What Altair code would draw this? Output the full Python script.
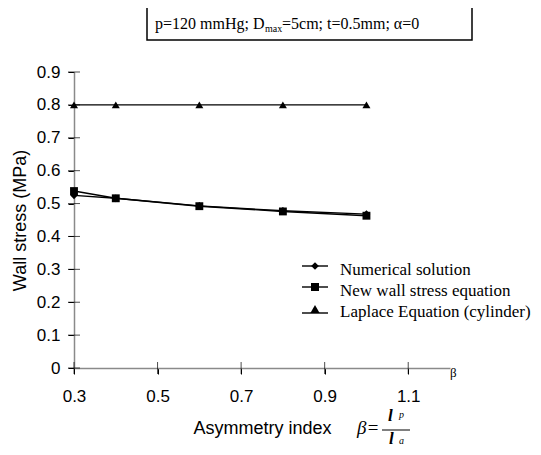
import altair as alt
import pandas as pd

# ---- data ----
beta_vals = [0.3, 0.4, 0.6, 0.8, 1.0]
numerical = [0.525, 0.516, 0.493, 0.478, 0.468]
new_eq = [0.538, 0.516, 0.492, 0.476, 0.463]
laplace = [0.8, 0.8, 0.8, 0.8, 0.8]
series_names = ["Numerical solution", "New wall stress equation", "Laplace Equation (cylinder)"]
series_shapes = ["diamond", "square", "triangle-up"]
x_ticks = [0.3, 0.5, 0.7, 0.9, 1.1]
y_ticks = [0.0, 0.1, 0.2, 0.3, 0.4, 0.5, 0.6, 0.7, 0.8, 0.9]

rows = []
for name, vals in zip(series_names, [numerical, new_eq, laplace]):
    for b, v in zip(beta_vals, vals):
        rows.append({"beta": b, "stress": v, "series": name})
df = pd.DataFrame(rows)

W, H = 376, 296
xs = alt.Scale(domain=[0.3, 1.2], nice=False, zero=False)
ys = alt.Scale(domain=[0, 0.9], nice=False)

x_axis = alt.Axis(
    values=x_ticks, format=".1f", title="Asymmetry index",
    titleX=188, titleY=60, titleBaseline="middle", titleFont="Liberation Sans",
    titleFontSize=18, titleFontWeight="normal", titleColor="black",
    labelFont="Liberation Sans", labelFontSize=17, labelColor="black", labelPadding=14,
    labelFlush=False, labelOverlap=False,
    domainColor="#8a8a8a", domainWidth=1.5, tickColor="black", tickSize=6, grid=False)
y_axis = alt.Axis(
    values=y_ticks, format=".1~f", title="Wall stress (MPa)",
    titleFont="Liberation Sans", titleFontSize=18, titleFontWeight="normal",
    titleColor="black", titlePadding=7,
    labelFont="Liberation Sans", labelFontSize=17, labelColor="black", labelPadding=8,
    labelFlush=False, labelOverlap=False,
    domainColor="#8a8a8a", domainWidth=1.5, tickColor="black", tickSize=6, grid=False)

lines = alt.Chart(df).mark_line(color="black", strokeWidth=1.4).encode(
    x=alt.X("beta:Q", scale=xs, axis=x_axis),
    y=alt.Y("stress:Q", scale=ys, axis=y_axis), detail="series:N")

points = alt.Chart(df).mark_point(filled=True, color="black", opacity=1).encode(
    x=alt.X("beta:Q", scale=xs, axis=x_axis), y=alt.Y("stress:Q", scale=ys, axis=y_axis),
    shape=alt.Shape("series:N", scale=alt.Scale(domain=series_names, range=series_shapes),
                    legend=None),
    size=alt.Size("series:N", scale=alt.Scale(domain=series_names, range=[60, 64, 85]),
                  legend=None))

ytick_df = pd.DataFrame({"stress": y_ticks})
xtick_df = pd.DataFrame({"beta": x_ticks})
yticks = alt.Chart(ytick_df).mark_tick(color="black", size=12, thickness=1).encode(
    y=alt.Y("stress:Q", scale=ys, axis=y_axis), x=alt.value(0))
xticks = alt.Chart(xtick_df).mark_tick(color="black", size=12, thickness=1).encode(
    x=alt.X("beta:Q", scale=xs, axis=x_axis), y=alt.value(H))

one = pd.DataFrame({"a": [0]})

# annotation box
box = alt.Chart(one).mark_rect(fill="white", stroke="black", strokeWidth=1.5).encode(
    x=alt.value(73), x2=alt.value(398), y=alt.value(-66), y2=alt.value(-32))

def txt(s, x, y, size, font="Liberation Serif", style="normal", weight="normal",
        align="left", baseline="alphabetic"):
    return alt.Chart(pd.DataFrame({"t": [s]})).mark_text(
        font=font, fontSize=size, fontStyle=style, fontWeight=weight, align=align,
        baseline=baseline, color="black").encode(
        text="t:N", x=alt.value(x), y=alt.value(y))

t1 = txt("p=120 mmHg; D", 81, -43, 16)
t2 = txt("max", 191, -40, 10)
t3 = txt("=5cm; t=0.5mm; α=0", 208, -43, 16)

# manual legend (line + marker + label)
leg_line_y = [194, 215, 241]
leg_mark_y = [194, 215, 237]
leg_text_y = [198, 219, 240]
leg_sizes = [60, 64, 85]
legend_layers = []
for name, shp, ly, my, ty, sz in zip(series_names, series_shapes, leg_line_y,
                                     leg_mark_y, leg_text_y, leg_sizes):
    legend_layers.append(alt.Chart(one).mark_rule(color="black", strokeWidth=1.4).encode(
        x=alt.value(228), x2=alt.value(254), y=alt.value(ly)))
    legend_layers.append(alt.Chart(one).mark_point(
        shape=shp, filled=True, color="black", opacity=1, size=sz).encode(
        x=alt.value(241), y=alt.value(my)))
    legend_layers.append(txt(name, 266, ty, 17, baseline="middle"))

beta_end = txt("β", 376, 301, 13, baseline="middle")
beta_eq = txt("β=", 283, 356, 19, style="italic", baseline="middle")
frac = alt.Chart(one).mark_rule(color="black", strokeWidth=1).encode(
    x=alt.value(308), x2=alt.value(336), y=alt.value(358))
lp1 = txt("l", 314, 349, 17, style="italic", weight="bold")
lp2 = txt("p", 325, 346, 10, style="italic")
la1 = txt("l", 315, 372, 17, style="italic", weight="bold")
la2 = txt("a", 325, 372, 10, style="italic")

chart = alt.layer(
    box, t1, t2, t3, lines, points, yticks, xticks, *legend_layers,
    beta_end, beta_eq, frac, lp1, lp2, la1, la2
).resolve_scale(shape="independent", size="independent").properties(
    width=W, height=H,
    autosize=alt.AutoSizeParams(type="none"),
    padding={"left": 66, "top": 64, "right": 83, "bottom": 79},
    background="white",
).configure_view(stroke=None)

chart.save("out.html", embed_options={"renderer": "svg", "actions": False})
